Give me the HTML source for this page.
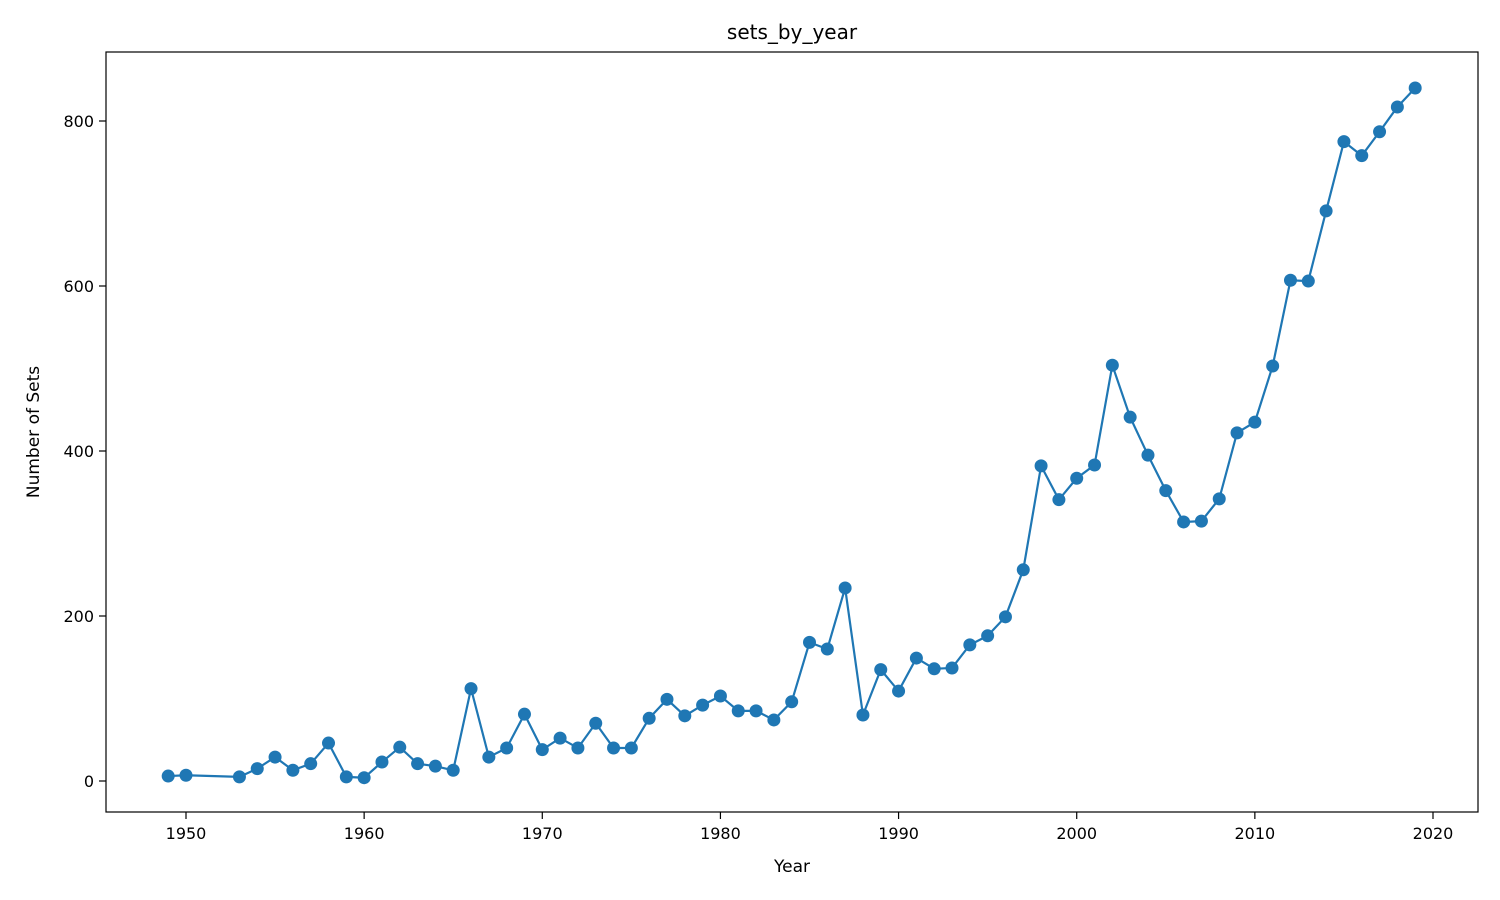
<!DOCTYPE html>
<html><head><meta charset="utf-8"><style>
body{margin:0;background:#fff;}
svg{display:block;font-family:"DejaVu Sans","Liberation Sans",sans-serif;}
</style></head><body>
<svg id="chart" width="1500" height="900" xmlns="http://www.w3.org/2000/svg">
<rect width="1500" height="900" fill="#fff"/>
<text x="792" y="39" font-size="20" text-anchor="middle">sets_by_year</text>
<text x="792" y="872" font-size="17" text-anchor="middle">Year</text>
<text transform="translate(39,432) rotate(-90)" font-size="17" text-anchor="middle">Number of Sets</text>
<g id="axes"></g>
<g id="marks"></g>
<rect x="106" y="52" width="1372" height="760" fill="none" stroke="#000" stroke-width="1.2"/>
</svg>
<script>
const years=[1949,1950,1953,1954,1955,1956,1957,1958,1959,1960,1961,1962,1963,1964,1965,1966,1967,1968,1969,1970,1971,1972,1973,1974,1975,1976,1977,1978,1979,1980,1981,1982,1983,1984,1985,1986,1987,1988,1989,1990,1991,1992,1993,1994,1995,1996,1997,1998,1999,2000,2001,2002,2003,2004,2005,2006,2007,2008,2009,2010,2011,2012,2013,2014,2015,2016,2017,2018,2019];
const counts=[6,7,5,15,29,13,21,46,5,4,23,41,21,18,13,112,29,40,81,38,52,40,70,40,40,76,99,79,92,103,85,85,74,96,168,160,234,80,135,109,149,136,137,165,176,199,256,382,341,367,383,504,441,395,352,314,315,342,422,435,503,607,606,691,775,758,787,817,840];
const xTicks=[1950,1960,1970,1980,1990,2000,2010,2020];
const yTicks=[0,200,400,600,800];
const NS="http://www.w3.org/2000/svg";
const X=v=>186+(v-1950)*(1433-186)/70;
const Y=v=>781-v*0.825;
function mk(t,a,p){const e=document.createElementNS(NS,t);for(const k in a)e.setAttribute(k,a[k]);p.appendChild(e);return e;}
const axes=document.getElementById('axes'),marks=document.getElementById('marks');
xTicks.forEach(t=>{
  const l=mk('line',{x1:X(t),x2:X(t),y1:812,y2:819,stroke:'#000','stroke-width':1.2},axes);
  
  
  const s=mk('text',{x:X(t),y:839,'font-size':16,'text-anchor':'middle'},axes);s.textContent=t;
  
  
});
yTicks.forEach(t=>{
  const l=mk('line',{x1:99,x2:106,y1:Y(t),y2:Y(t),stroke:'#000','stroke-width':1.2},axes);
  
  
  const s=mk('text',{x:94,y:Y(t)+6,'font-size':16,'text-anchor':'end'},axes);s.textContent=t;
  
  
});
const line=mk('polyline',{points:years.map((y,i)=>X(y)+','+Y(counts[i])).join(' '),fill:'none',stroke:'#1f77b4','stroke-width':2.2},marks);


years.forEach((y,i)=>{
  const c=mk('circle',{cx:X(y),cy:Y(counts[i]),r:6.5,fill:'#1f77b4'},marks);
  
  
});
</script>
</body></html>
